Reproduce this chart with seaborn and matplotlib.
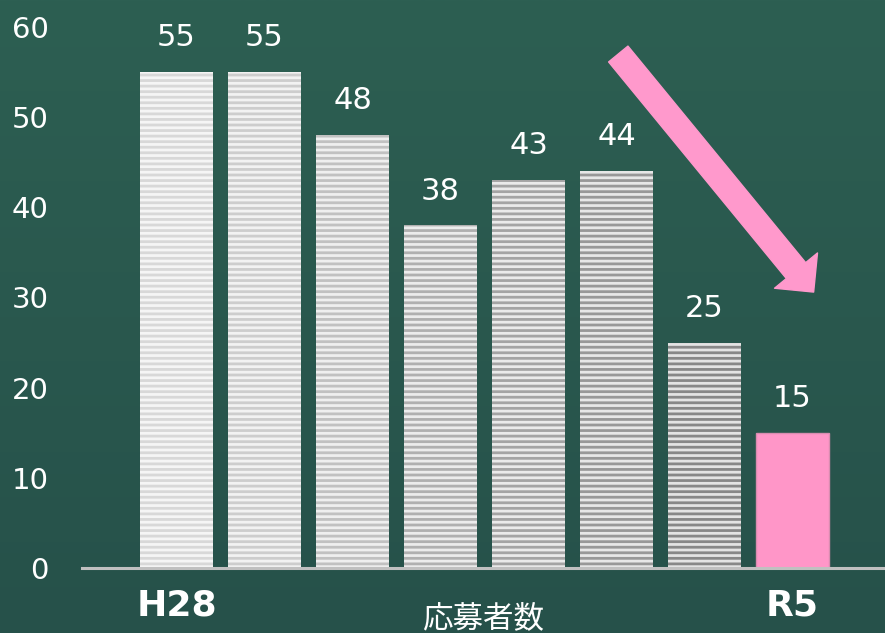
import matplotlib
matplotlib.use("Agg")
import matplotlib.pyplot as plt
from matplotlib.colors import LinearSegmentedColormap
import numpy as np
import seaborn as sns
import pandas as pd

years = ["H28", "H29", "H30", "R1", "R2", "R3", "R4", "R5"]
applicants = [55, 55, 48, 38, 43, 44, 25, 15]
tick_labels = ["H28", "", "", "", "", "", "", "R5"]
y_ticks = [0, 10, 20, 30, 40, 50, 60]
x_title = "応募者数"

# bar fill + stripe colour (stripes darken to the right, last one is pink)
bar_faces = ["#f5f5f5", "#f2f2f2", "#efefef", "#ececec", "#eaeaea", "#e7e7e7", "#e4e4e4", "#ff96c8"]
stripe_colors = ["#d8d8d8", "#cdcdcd", "#c1c1c1", "#b0b0b0", "#a4a4a4", "#989898", "#888888", None]
bg_top = "#2d5f52"
bg_bottom = "#26514a"
pink = "#ff99cc"

df = pd.DataFrame({"year": years, "applicants": applicants})

sns.set_theme(style="white")
plt.rcParams["font.family"] = ["DejaVu Sans", "Noto Sans CJK JP"]
plt.rcParams["hatch.linewidth"] = 2.0

fig = plt.figure(figsize=(8.85, 6.33), dpi=100)
fig.patch.set_facecolor(bg_bottom)

# soft vertical gradient behind everything
bg_ax = fig.add_axes([0, 0, 1, 1], zorder=-10)
grad = LinearSegmentedColormap.from_list("bg", [bg_bottom, bg_top])
bg_ax.imshow(np.linspace(0, 1, 256).reshape(-1, 1), aspect="auto", cmap=grad,
             origin="lower", extent=[0, 1, 0, 1])
bg_ax.axis("off")

ax = fig.add_axes([0.0927, 0.1027, 0.9073, 0.8547])
ax.patch.set_alpha(0)

sns.barplot(data=df, x="year", y="applicants", hue="year", palette=bar_faces,
            legend=False, width=0.83, saturation=1, ax=ax)

for patch, sc in zip(ax.patches, stripe_colors):
    if sc is None:
        patch.set_edgecolor("#d98cb0")
        patch.set_linewidth(1.0)
    else:
        patch.set_hatch("---")
        patch.set_edgecolor(sc)
        patch.set_linewidth(0)

for i, v in enumerate(applicants):
    ax.text(i, v + 3.8, str(v), ha="center", va="center", color="white", fontsize=22)

ax.annotate("", xy=(7.24, 30.6), xytext=(5.02, 57.0), annotation_clip=False,
            arrowprops=dict(arrowstyle="simple,head_length=1.0,head_width=2.0,tail_width=0.9",
                            mutation_scale=20, color=pink, shrinkA=0, shrinkB=0))

ax.set_xlim(-1.074, 8.051)
ax.set_ylim(0, 60)
ax.set_yticks(y_ticks)
ax.set_yticklabels([str(t) for t in y_ticks], color="white", fontsize=21)
ax.set_xticks(range(len(years)))
ax.set_xticklabels(tick_labels, color="white", fontsize=26, fontweight="bold")
ax.tick_params(axis="y", length=0, pad=24)
ax.tick_params(axis="x", length=0, pad=15)
ax.set_ylabel("")
ax.set_xlabel(x_title, color="white", fontsize=22, va="center")
ax.xaxis.set_label_coords(0.5, -0.094)

for s in ["top", "right", "left"]:
    ax.spines[s].set_visible(False)
ax.spines["bottom"].set_color("#c0c0c0")
ax.spines["bottom"].set_linewidth(2.2)

fig.savefig("out.png", dpi=100)
